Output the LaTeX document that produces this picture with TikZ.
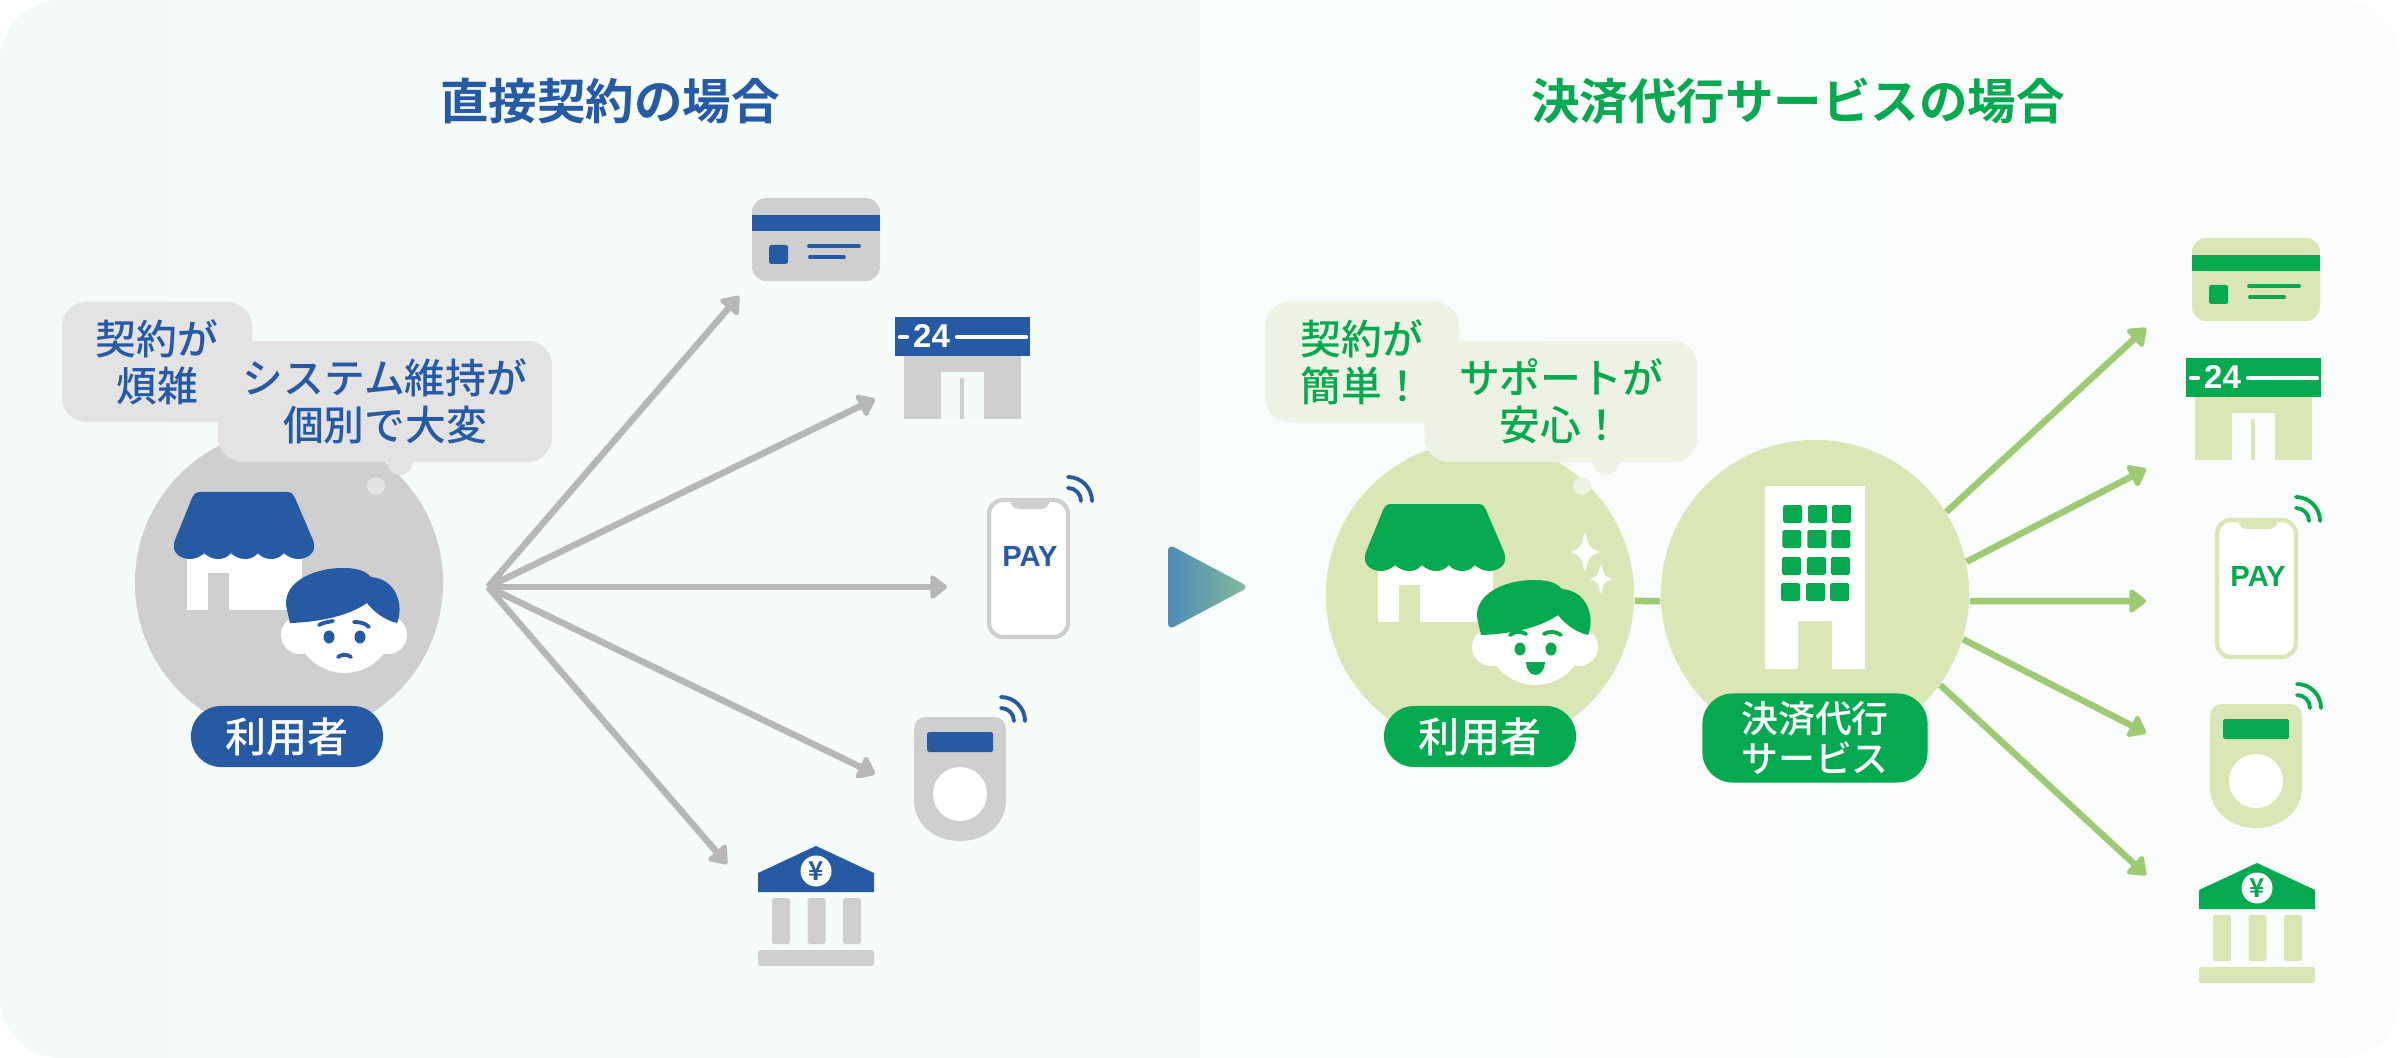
\documentclass[tikz,border=0pt]{standalone}
\usepackage{fontspec}
\usepackage{tikz}
\usetikzlibrary{arrows.meta}
\setmainfont{Liberation Sans}
\newfontfamily\jpreg{Noto Sans CJK JP Medium}
\newfontfamily\jpbold{Noto Sans CJK JP Bold}
\definecolor{blueink}{HTML}{265AA5}
\definecolor{greenink}{HTML}{05A94F}
\definecolor{greypale}{HTML}{CFCFCF}
\definecolor{greenpale}{HTML}{DBE6B6}
\definecolor{greybubble}{HTML}{E3E3E3}
\definecolor{greenbubble}{HTML}{EEF2E2}
\definecolor{greyflow}{HTML}{B7B7B7}
\definecolor{greenflow}{HTML}{9CCB74}
\definecolor{pageleft}{HTML}{F4FBF7}
\definecolor{pageright}{HTML}{FBFDFC}
\definecolor{triblue}{HTML}{4D8BB8}
\definecolor{trigreen}{HTML}{85BA98}
\tikzset{
  bubble/.style={rounded corners=7pt, inner sep=0pt, align=center, fill=#1},
  bubbletext/.style={font=\jpreg\fontsize{11.6}{13.4}\selectfont},
  pill/.style={fill=ink, text=white, rounded corners=8.6pt, inner sep=0pt, align=center,
    font=\jpreg\fontsize{11.7}{12}\selectfont},
  disc/.style={circle, fill=pale, inner sep=0pt, minimum size=3.08cm},
  title/.style={font=\jpbold\fontsize{13.8}{16}\selectfont},
  flowline/.style={line width=1.85pt, -{Triangle[length=5.2pt,width=7.6pt,round]}},
  wave/.style={draw=ink, line width=1.1pt, line cap=round},
  thinbar/.style={draw=ink, line width=1.1pt, line cap=round},
}
% bank card
\newcommand{\cardicon}[2]{
  \begin{scope}[shift={(#1,#2)}]
    \fill[pale, rounded corners=4pt] (752,198) rectangle (880,281);
    \fill[ink] (752,215) rectangle (880,231);
    \fill[ink, rounded corners=0.5pt] (769,245) rectangle (788,264);
    \draw[thinbar] (809,246) -- (859,246);
    \draw[thinbar] (810,257) -- (844,257);
  \end{scope}
}
% convenience store
\newcommand{\storeicon}[3]{
  \begin{scope}[shift={(#1,#2)}]
    \fill[pale] (904,356) rectangle (1021,419);
    \fill[page] (941,372) rectangle (984,419);
    \draw[pale, line width=1.4pt] (962,378) -- (962,419);
    \fill[ink] (895,317) rectangle (1030,356.5);
    \draw[white, line width=1.2pt, line cap=round] (900,337) -- (907,337);
    \draw[white, line width=1.2pt, line cap=round] (957,337) -- (1026,337);
    \node[text=white, inner sep=0pt, font=\bfseries\fontsize{9.4}{10}\selectfont] (#3hours) at (931.5,336) {24};
  \end{scope}
}
% two radio waves
\newcommand{\waveicon}[2]{
  \foreach \r in {13,24} {
    \draw[wave] (#1,#2-\r) .. controls (#1+0.55*\r,#2-\r) and (#1+\r,#2-0.55*\r) .. (#1+\r,#2);
  }
}
% phone
\newcommand{\phoneicon}[3]{
  \begin{scope}[shift={(#1,#2)}]
    \draw[pale, fill=white, line width=1.2pt, rounded corners=4pt] (989,500) rectangle (1068,637);
    \fill[pale, rounded corners=1.5pt] (1009,498) -- (1051,498) -- (1047,509) -- (1013,509) -- cycle;
    \node[text=ink, inner sep=0pt, font=\bfseries\fontsize{8.3}{9}\selectfont] (#3pay) at (1030,556.5) {PAY};
    \waveicon{1068}{501}
  \end{scope}
}
% card reader
\newcommand{\readericon}[2]{
  \begin{scope}[shift={(#1,#2)}]
    \fill[pale] (914,800) -- (914,729) .. controls (914,722) and (919,717) .. (926,717)
      -- (994,717) .. controls (1001,717) and (1006,722) .. (1006,729) -- (1006,800)
      .. controls (1006,825) and (985,841) .. (960,841) .. controls (935,841) and (914,825) .. (914,800) -- cycle;
    \fill[ink, rounded corners=0.5pt] (927,732) rectangle (993,752);
    \fill[white] (960,794) circle[radius=27];
    \waveicon{1001}{721}
  \end{scope}
}
% bank
\newcommand{\bankicon}[3]{
  \begin{scope}[shift={(#1,#2)}]
    \fill[ink] (758,873) -- (816,846) -- (874,873) -- (874,892) -- (758,892) -- cycle;
    \fill[white] (816,871) circle[radius=15.5];
    \node[text=ink, inner sep=0pt, font=\jpbold\fontsize{7.4}{8}\selectfont] (#3yen) at (816,871) {¥};
    \foreach \x in {772,807.5,843} {
      \fill[pale, rounded corners=0.5pt] (\x,898) rectangle (\x+18,944);
    }
    \fill[pale, rounded corners=0.5pt] (758,950) rectangle (874,966);
  \end{scope}
}
% shop with shopper
\newcommand{\shopicon}[2]{
  \begin{scope}[shift={(#1,#2)}]
    \fill[white] (186.5,555) rectangle (302,610);
    \fill[pale] (208,573) rectangle (229,610);
    \fill[ink] (200,492) -- (287,492) .. controls (292,492) and (294,495) .. (295,498) -- (313,540)
      .. controls (318,552) and (308,559) .. (298,559) .. controls (292,559) and (287,556) .. (284,553)
      .. controls (280,558) and (275,559) .. (271,559) .. controls (266,559) and (261,557) .. (258,553)
      .. controls (254,558) and (249,559) .. (245,559) .. controls (240,559) and (235,557) .. (231,553)
      .. controls (227,558) and (222,559) .. (218,559) .. controls (213,559) and (208,557) .. (204.5,553)
      .. controls (200,557) and (195,559) .. (190,559) .. controls (180,559) and (170,552) .. (175,540)
      -- (192,498) .. controls (194,494) and (196,492) .. (200,492) -- cycle;
    % face
    \fill[white] (300,635) circle[radius=19];
    \fill[white] (388,635) circle[radius=19];
    \fill[white] (344.5,622) ellipse[x radius=50, y radius=51];
    \fill[ink] (290,623) .. controls (322,622) and (350,615) .. (367,603)
      .. controls (373,611) and (384,620) .. (397,623) .. controls (404,606) and (397,579) .. (371,577)
      .. controls (365,570) and (355,568) .. (343,568) .. controls (310,568) and (280,585) .. (287,610) -- cycle;
    \fill[ink] (329,637) ellipse[x radius=5.5, y radius=6.5];
    \fill[ink] (360,637) ellipse[x radius=5.5, y radius=6.5];
  \end{scope}
}
\begin{document}
\begin{tikzpicture}[x=0.01cm, y=-0.01cm]
  \useasboundingbox (0,0) rectangle (2400,1058);
  \shade[left color=pageleft, right color=pageright, rounded corners=17pt] (0,0) rectangle (2400,1058);

  % Titles
  \node[title, text=blueink] (titleL) at (610,101) {直接契約の場合};
  \node[title, text=greenink] (titleR) at (1798,101) {決済代行サービスの場合};

  % Direct contract side
  \begin{scope}
    \colorlet{ink}{blueink}
    \colorlet{pale}{greypale}
    \colorlet{page}{pageleft}
    \node[disc] (userL) at (289,583) {};
    \shopicon{0}{0}
    % sad look
    \draw[ink, line width=1.1pt, line cap=round] (319,625) .. controls (324,622) and (329,622) .. (333,621);
    \draw[ink, line width=1.1pt, line cap=round] (354,622) .. controls (360,622) and (365,623) .. (369,627);
    \draw[ink, line width=1.1pt, line cap=round] (338,657) .. controls (342,654) and (347,654) .. (351,657);
    \fill[greybubble] (400,462) circle[radius=13];
    \fill[greybubble] (376,486) circle[radius=9];
    \node[bubble=greybubble, bubbletext, text=ink, minimum width=1.9cm, minimum height=1.2cm] (bubbleA) at (157,362) {契約が\\煩雑};
    \node[bubble=greybubble, bubbletext, text=ink, minimum width=3.34cm, minimum height=1.21cm] (bubbleB) at (385,401.5) {システム維持が\\個別で大変};
    \node[pill, minimum width=1.92cm, minimum height=0.61cm] (labelL) at (287,736.5) {利用者};
    \cardicon{0}{0}
    \storeicon{0}{0}{L}
    \phoneicon{0}{0}{L}
    \readericon{0}{0}
    \bankicon{0}{0}{L}
    \coordinate (fanL) at (488,587);
    \foreach \n/\p in {a/{739,296}, b/{875,399}, c/{947,587}, d/{875,774}, e/{727,864}} {
      \coordinate (tipL\n) at (\p);
      \draw[flowline, greyflow] (fanL) -- (tipL\n);
    }
  \end{scope}

  % Middle triangle
  \shade[left color=triblue, right color=trigreen, rounded corners=2pt]
    (1168,544) -- (1249,587) -- (1168,630) -- cycle;

  % Payment service side
  \begin{scope}
    \colorlet{ink}{greenink}
    \colorlet{pale}{greenpale}
    \colorlet{page}{pageright}
    \node[disc] (userR) at (1480,595) {};
    \node[disc] (hubR) at (1815,594) {};
    \draw[greenflow, line width=1.85pt] ([yshift=-1.7pt]userR.east) -- ([yshift=-2pt]hubR.west);
    \shopicon{1191}{12}
    % happy look
    \begin{scope}[shift={(1191,12)}]
      \draw[ink, line width=1.1pt, line cap=round] (319,623) .. controls (324,619) and (330,619) .. (335,622);
      \draw[ink, line width=1.1pt, line cap=round] (353,622) .. controls (358,619) and (364,619) .. (370,623);
      \fill[ink] (335,650) -- (354,650) .. controls (354,657) and (350,663) .. (344.5,663) .. controls (339,663) and (335,657) .. (335,650) -- cycle;
    \end{scope}
    % sparkles
    \foreach \cx/\cy/\w/\h in {1585/552/13/18, 1601/579/9/13} {
      \filldraw[white, line width=0.5pt, line join=round] (\cx,\cy-\h) .. controls (\cx+0.2*\w,\cy-0.3*\h) and (\cx+0.3*\w,\cy-0.15*\h) .. (\cx+\w,\cy)
        .. controls (\cx+0.3*\w,\cy+0.15*\h) and (\cx+0.2*\w,\cy+0.3*\h) .. (\cx,\cy+\h)
        .. controls (\cx-0.2*\w,\cy+0.3*\h) and (\cx-0.3*\w,\cy+0.15*\h) .. (\cx-\w,\cy)
        .. controls (\cx-0.3*\w,\cy-0.15*\h) and (\cx-0.2*\w,\cy-0.3*\h) .. (\cx,\cy-\h) -- cycle;
    }
    \fill[greenbubble] (1606,462) circle[radius=13];
    \fill[greenbubble] (1582,486) circle[radius=9];
    \node[bubble=greenbubble, bubbletext, text=ink, minimum width=1.94cm, minimum height=1.2cm] (bubbleC) at (1362,362) {契約が\\簡単！};
    \node[bubble=greenbubble, bubbletext, text=ink, minimum width=2.73cm, minimum height=1.21cm] (bubbleD) at (1561,401.5) {サポートが\\安心！};
    \node[pill, minimum width=1.92cm, minimum height=0.61cm] (labelR) at (1480,736.5) {利用者};
    % building
    \fill[white] (1764.5,486) rectangle (1865,669);
    \fill[pale] (1798,621) rectangle (1832,669);
    \foreach \i/\y in {0/505, 1/530, 2/557, 3/583} {
      \foreach \x in {1783,1808,1832} {
        \fill[ink, rounded corners=0.5pt] (\x-0.6*\i,\y) rectangle (\x-0.6*\i+19,\y+18);
      }
    }
    \node[pill, minimum width=2.25cm, minimum height=0.89cm, font=\jpreg\fontsize{10.5}{11.4}\selectfont] (labelH) at (1815,738) {決済代行\\サービス};
    \cardicon{1440}{40}
    \storeicon{1291}{41}{R}
    \phoneicon{1228}{20}{R}
    \readericon{1296}{-13}
    \bankicon{1441}{17}{R}
    \coordinate (tipRc) at (2146,601);
    \draw[flowline, greenflow] ([yshift=-2pt]hubR.east) -- (tipRc);
    \foreach \n/\a/\p in {a/32.4/{2146,328}, b/12/{2146,469}, d/-17/{2146,733}, e/-36.5/{2146,875}} {
      \coordinate (tipR\n) at (\p);
      \draw[flowline, greenflow] (hubR.\a) -- (tipR\n);
    }
  \end{scope}
\end{tikzpicture}
\end{document}
